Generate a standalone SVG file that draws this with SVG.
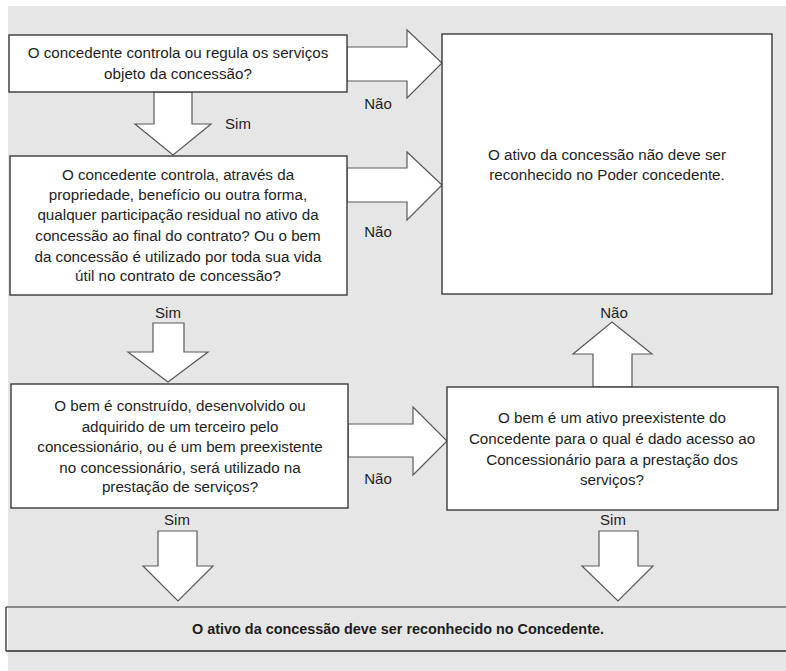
<svg xmlns="http://www.w3.org/2000/svg" width="786" height="671" viewBox="0 0 786 671">
<style>
.bg{fill:#e6e6e6}
.box{fill:#ffffff;stroke:#3a3a3a;stroke-width:1.4}
.arrow{fill:#ffffff;stroke:#5a5a5a;stroke-width:1.2;stroke-linejoin:miter}
.t{font-family:"Liberation Sans",Arial,sans-serif;font-size:15.2px;fill:#1e1e1e;text-anchor:middle}
.lbl{font-family:"Liberation Sans",Arial,sans-serif;font-size:15px;fill:#1e1e1e;text-anchor:middle}
.b{font-weight:bold;font-size:14.4px}
</style>
<rect x="0" y="0" width="786" height="671" fill="#ffffff"/>
<rect class="bg" x="8" y="6" width="778" height="665"/>
<g id="connectors">
<polygon class="arrow" points="154,92 192,92 192,124 211,124 173,155 135,124 154,124"/>
<polygon class="arrow" points="347,47 407,47 407,30 442,63 407,98 407,81 347,81"/>
<polygon class="arrow" points="347,168 407,168 407,152 442,185 407,220 407,202 347,202"/>
<polygon class="arrow" points="153,323 184,323 184,352 208,352 168,382 128,352 153,352"/>
<polygon class="arrow" points="348,424 413,424 413,407 447,441 413,475 413,457 348,457"/>
<polygon class="arrow" points="158,531 197,531 197,566 213,566 178,601 143,566 158,566"/>
<polygon class="arrow" points="593,387 632,387 632,354 652,354 612,322 573,354 593,354"/>
<polygon class="arrow" points="599,531 638,531 638,566 653,566 618,601 582,566 599,566"/>
<text class="lbl" x="238" y="129">Sim</text>
<text class="lbl" x="378" y="109">Não</text>
<text class="lbl" x="378" y="237">Não</text>
<text class="lbl" x="168" y="318">Sim</text>
<text class="lbl" x="378" y="484">Não</text>
<text class="lbl" x="177" y="525">Sim</text>
<text class="lbl" x="614" y="318">Não</text>
<text class="lbl" x="613" y="525">Sim</text>
</g>
<g id="q1">
<rect class="box" x="9" y="35" width="338" height="57"/>
<text class="t" x="178" y="58">O concedente controla ou regula os serviços</text>
<text class="t" x="178" y="79">objeto da concessão?</text>
</g>
<g id="q2">
<rect class="box" x="10" y="156" width="337" height="139"/>
<text class="t" x="178" y="180">O concedente controla, através da</text>
<text class="t" x="178" y="200">propriedade, benefício ou outra forma,</text>
<text class="t" x="178" y="220">qualquer participação residual no ativo da</text>
<text class="t" x="178" y="241">concessão ao final do contrato? Ou o bem</text>
<text class="t" x="178" y="262">da concessão é utilizado por toda sua vida</text>
<text class="t" x="178" y="281">útil no contrato de concessão?</text>
</g>
<g id="notRecognized">
<rect class="box" x="442" y="34" width="330" height="260"/>
<text class="t" x="607" y="160">O ativo da concessão não deve ser</text>
<text class="t" x="607" y="180">reconhecido no Poder concedente.</text>
</g>
<g id="q3">
<rect class="box" x="11" y="384" width="337" height="124"/>
<text class="t" x="180" y="411">O bem é construído, desenvolvido ou</text>
<text class="t" x="180" y="432">adquirido de um terceiro pelo</text>
<text class="t" x="180" y="452">concessionário, ou é um bem preexistente</text>
<text class="t" x="180" y="473">no concessionário, será utilizado na</text>
<text class="t" x="180" y="492">prestação de serviços?</text>
</g>
<g id="q4">
<rect class="box" x="447" y="387" width="331" height="123"/>
<text class="t" x="612" y="423">O bem é um ativo preexistente do</text>
<text class="t" x="612" y="444">Concedente para o qual é dado acesso ao</text>
<text class="t" x="612" y="465">Concessionário para a prestação dos</text>
<text class="t" x="612" y="485">serviços?</text>
</g>
<g id="recognized">
<line x1="6" y1="607" x2="786" y2="607" stroke="#6a6a6a" stroke-width="1.5"/>
<line x1="6" y1="651" x2="786" y2="651" stroke="#2a2a2a" stroke-width="1.6"/>
<line x1="6" y1="607" x2="6" y2="651" stroke="#3a3a3a" stroke-width="1.4"/>
<text class="t b" x="398" y="634">O ativo da concessão deve ser reconhecido no Concedente.</text>
</g>
</svg>
